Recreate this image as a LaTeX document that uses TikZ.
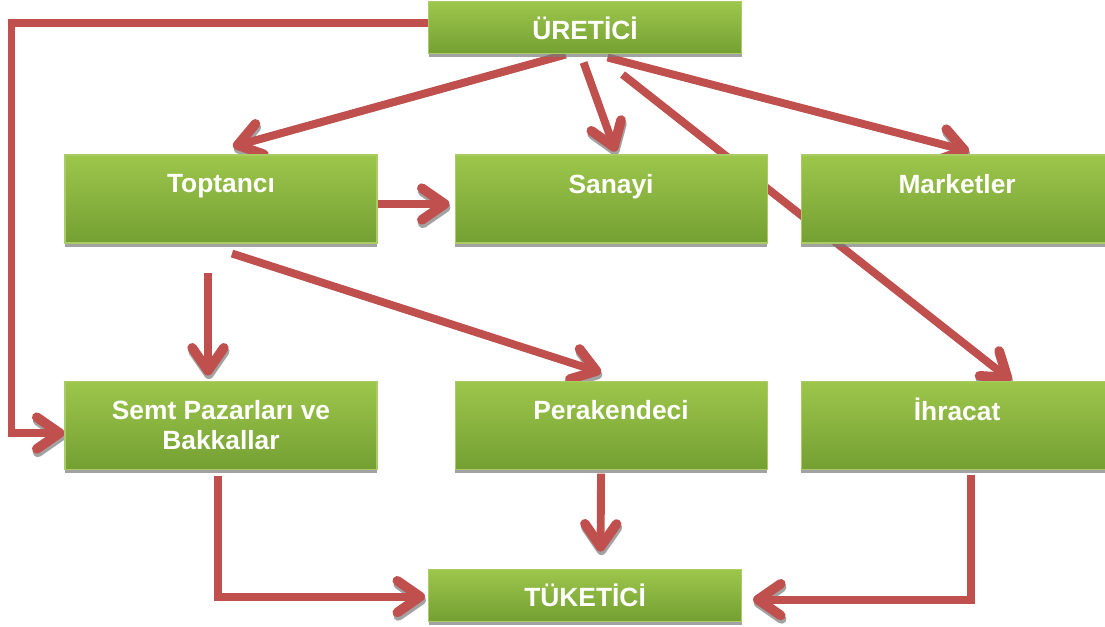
\documentclass[tikz,border=0pt]{standalone}
\usepackage{fontspec}
\setmainfont{Liberation Sans}
\usepackage{xcolor}
\usepackage{tikz}
\usetikzlibrary{arrows.meta, positioning, shadows, backgrounds}
\definecolor{LeafTop}{HTML}{9DC64B}
\definecolor{LeafBottom}{HTML}{74A033}
\definecolor{LeafEdge}{HTML}{A9CC66}
\definecolor{Brick}{HTML}{C0504D}
\definecolor{Smoke}{HTML}{7A7A7A}

\begin{document}
\begin{tikzpicture}[
  box/.style={draw=LeafEdge, line width=0.6pt, top color=LeafTop, bottom color=LeafBottom, minimum width=6.24cm, minimum height=1.76cm, inner sep=0pt, align=center, text=white, font=\fontsize{15}{17.5}\selectfont\bfseries, drop shadow={shadow xshift=0pt, shadow yshift=-0.07cm, opacity=0.7, fill=Smoke}},
  endbox/.style={box, minimum width=6.26cm, minimum height=1.04cm},
  arrow/.style={draw=Brick, line width=4.5pt, -{Straight Barb[length=13pt, width=18pt, line width=5.5pt, round]}, preaction={draw=Smoke, draw opacity=0.7, transform canvas={xshift=0.5pt, yshift=-2pt}}}
]
\useasboundingbox (0,0) rectangle (22.1,-12.52);

\node[box] (toptanci) at (4.42,-3.98) {Toptancı\\\mbox{}};
\node[box, right=1.54cm of toptanci] (sanayi) {Sanayi\\\mbox{}};
\node[box, right=0.66cm of sanayi] (marketler) {Marketler\\\mbox{}};
\node[box, below=2.74cm of toptanci] (semt) {Semt Pazarları ve\\Bakkallar};
\node[box, below=2.74cm of sanayi] (perakende) {Perakendeci\\\mbox{}};
\node[box, below=2.74cm of marketler] (ihracat) {İhracat\\\mbox{}};
\node[endbox, above=2cm of sanayi, xshift=-0.52cm] (uretici) {ÜRETİCİ};
\node[endbox, below=1.98cm of perakende, xshift=-0.52cm] (tuketici) {TÜKETİCİ};

\begin{scope}[on background layer]
% producer to its buyers
\draw[arrow] ([yshift=0.1cm]uretici.west) -| ([xshift=-1.06cm, yshift=-0.16cm]semt.west) -- ([yshift=-0.16cm]semt.west);
\draw[arrow] ([xshift=-0.39cm]uretici.south) -- ([xshift=0.24cm, yshift=0.16cm]toptanci.north);
\draw[arrow] ([xshift=-0.03cm, yshift=-0.16cm]uretici.south) -- ([xshift=0.09cm, yshift=0.06cm]sanayi.north);
\draw[arrow] ([xshift=0.45cm, yshift=-0.06cm]uretici.south) -- ([xshift=0.24cm, yshift=0.06cm]marketler.north);
\draw[arrow] ([xshift=0.75cm, yshift=-0.4cm]uretici.south) -- ([xshift=1.08cm]ihracat.north);
% wholesaler
\draw[arrow] ([yshift=-0.1cm]toptanci.east) -- ([xshift=-0.1cm, yshift=-0.1cm]sanayi.west);
\draw[arrow] ([xshift=-0.26cm, yshift=-0.58cm]toptanci.south) -- ([xshift=-0.26cm, yshift=0.1cm]semt.north);
\draw[arrow] ([xshift=0.22cm, yshift=-0.2cm]toptanci.south) -- ([xshift=-0.2cm, yshift=0.16cm]perakende.north);
% down to the consumer
\draw[arrow] ([xshift=-0.06cm, yshift=-0.12cm]semt.south) |- ([xshift=-0.06cm, yshift=-0.03cm]tuketici.west);
\draw[arrow] ([xshift=-0.2cm, yshift=-0.08cm]perakende.south) -- ([xshift=0.31cm, yshift=0.34cm]tuketici.north);
\draw[arrow] ([xshift=0.28cm, yshift=-0.1cm]ihracat.south) |- ([xshift=0.22cm, yshift=-0.09cm]tuketici.east);
\end{scope}
\end{tikzpicture}
\end{document}
